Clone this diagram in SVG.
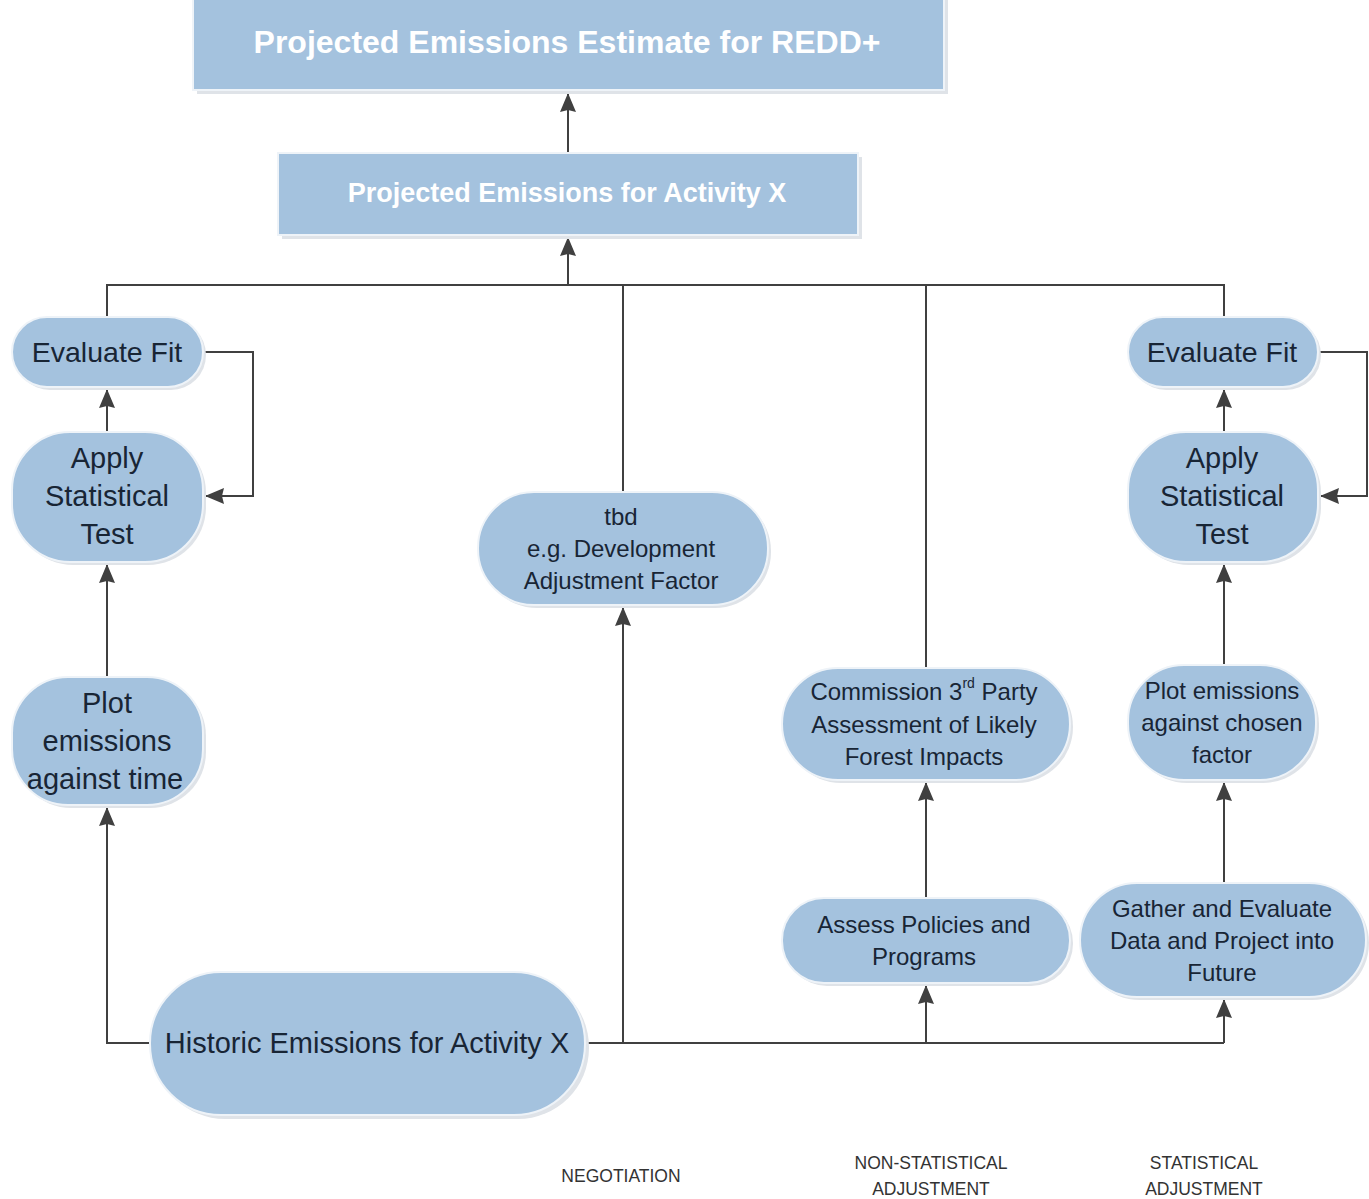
<svg xmlns="http://www.w3.org/2000/svg" width="1369" height="1199" viewBox="0 0 1369 1199">
<defs>
<style>
.box{fill:#a4c2de;stroke:#eef3f8;stroke-width:2}
.shd{fill:#dfe3e8}
.t{font-family:"Liberation Sans",Arial,sans-serif;fill:#182535;text-anchor:middle;dominant-baseline:central}
.w{font-family:"Liberation Sans",Arial,sans-serif;fill:#ffffff;font-weight:bold;text-anchor:middle;dominant-baseline:central}
.lbl{font-family:"Liberation Sans",Arial,sans-serif;fill:#333333;font-size:17.5px;text-anchor:middle;dominant-baseline:central}
.c{fill:none;stroke:#404040;stroke-width:2}
</style>
<marker id="ah" markerUnits="userSpaceOnUse" markerWidth="20" markerHeight="18" refX="19" refY="9" orient="auto">
<path d="M0,1 L19,9 L0,17 L2,9 z" fill="#404040"/>
</marker>
</defs>
<rect width="1369" height="1199" fill="#ffffff"/>

<g id="connectors">
<path class="c" d="M568,152 L568,93" marker-end="url(#ah)"/>
<path class="c" d="M568,285 L568,237" marker-end="url(#ah)"/>
<path class="c" d="M107,318 L107,285 L1224,285 L1224,318"/>
<path class="c" d="M623,285 L623,492"/>
<path class="c" d="M926,285 L926,668"/>
<path class="c" d="M203,352 L253,352 L253,496 L205,496" marker-end="url(#ah)"/>
<path class="c" d="M1318,352 L1367,352 L1367,496 L1320,496" marker-end="url(#ah)"/>
<path class="c" d="M107,432 L107,389" marker-end="url(#ah)"/>
<path class="c" d="M107,677 L107,564" marker-end="url(#ah)"/>
<path class="c" d="M150,1043 L107,1043 L107,807" marker-end="url(#ah)"/>
<path class="c" d="M585,1043 L1224,1043"/>
<path class="c" d="M623,1043 L623,607" marker-end="url(#ah)"/>
<path class="c" d="M926,1043 L926,985" marker-end="url(#ah)"/>
<path class="c" d="M926,898 L926,782" marker-end="url(#ah)"/>
<path class="c" d="M1224,1043 L1224,999" marker-end="url(#ah)"/>
<path class="c" d="M1224,883 L1224,782" marker-end="url(#ah)"/>
<path class="c" d="M1224,665 L1224,564" marker-end="url(#ah)"/>
<path class="c" d="M1224,432 L1224,389" marker-end="url(#ah)"/>
</g>

<g id="redd">
<rect class="shd" x="197" y="-4" width="751" height="98"/>
<rect class="box" x="193" y="-8" width="751" height="98"/>
<text class="w" x="567" y="42" font-size="32">Projected Emissions Estimate for REDD+</text>
</g>

<g id="projected">
<rect class="shd" x="282" y="157" width="580" height="82"/>
<rect class="box" x="278" y="153" width="580" height="82"/>
<text class="w" x="567" y="193" font-size="27">Projected Emissions for Activity X</text>
</g>

<g id="evalL">
<rect class="shd" x="15" y="320" width="191" height="70" rx="35"/>
<rect class="box" x="12" y="317" width="191" height="70" rx="35"/>
<text class="t" x="107" y="352" font-size="28.5">Evaluate Fit</text>
</g>

<g id="applyL">
<rect class="shd" x="15" y="435" width="191" height="130" rx="58"/>
<rect class="box" x="12" y="432" width="191" height="130" rx="58"/>
<text class="t" font-size="29"><tspan x="107" y="458">Apply</tspan><tspan x="107" y="496">Statistical</tspan><tspan x="107" y="534">Test</tspan></text>
</g>

<g id="plotL">
<rect class="shd" x="15" y="680" width="191" height="128" rx="56"/>
<rect class="box" x="12" y="677" width="191" height="128" rx="56"/>
<text class="t" font-size="29"><tspan x="107" y="703">Plot</tspan><tspan x="107" y="741">emissions</tspan><tspan x="105" y="779">against time</tspan></text>
</g>

<g id="historic">
<rect class="shd" x="154" y="976" width="435" height="143" rx="71"/>
<rect class="box" x="150" y="972" width="435" height="143" rx="71"/>
<text class="t" x="367" y="1043" font-size="29">Historic Emissions for Activity X</text>
</g>

<g id="tbd">
<rect class="shd" x="481" y="495" width="290" height="113" rx="56"/>
<rect class="box" x="478" y="492" width="290" height="113" rx="56"/>
<text class="t" font-size="24"><tspan x="621" y="516">tbd</tspan><tspan x="621" y="548">e.g. Development</tspan><tspan x="621" y="580">Adjustment Factor</tspan></text>
</g>

<g id="commission">
<rect class="shd" x="785" y="671" width="288" height="112" rx="56"/>
<rect class="box" x="782" y="668" width="288" height="112" rx="56"/>
<text class="t" font-size="24"><tspan x="924" y="691">Commission 3<tspan font-size="14" dy="-8">rd</tspan><tspan dy="8"> Party</tspan></tspan><tspan x="924" y="724">Assessment of Likely</tspan><tspan x="924" y="756">Forest Impacts</tspan></text>
</g>

<g id="assess">
<rect class="shd" x="785" y="901" width="288" height="85" rx="42"/>
<rect class="box" x="782" y="898" width="288" height="85" rx="42"/>
<text class="t" font-size="24"><tspan x="924" y="924">Assess Policies and</tspan><tspan x="924" y="956">Programs</tspan></text>
</g>

<g id="evalR">
<rect class="shd" x="1131" y="320" width="190" height="70" rx="35"/>
<rect class="box" x="1128" y="317" width="190" height="70" rx="35"/>
<text class="t" x="1222" y="352" font-size="28.5">Evaluate Fit</text>
</g>

<g id="applyR">
<rect class="shd" x="1131" y="435" width="190" height="130" rx="58"/>
<rect class="box" x="1128" y="432" width="190" height="130" rx="58"/>
<text class="t" font-size="29"><tspan x="1222" y="458">Apply</tspan><tspan x="1222" y="496">Statistical</tspan><tspan x="1222" y="534">Test</tspan></text>
</g>

<g id="plotR">
<rect class="shd" x="1131" y="668" width="188" height="115" rx="56"/>
<rect class="box" x="1128" y="665" width="188" height="115" rx="56"/>
<text class="t" font-size="24"><tspan x="1222" y="690">Plot emissions</tspan><tspan x="1222" y="722">against chosen</tspan><tspan x="1222" y="754">factor</tspan></text>
</g>

<g id="gather">
<rect class="shd" x="1083" y="886" width="286" height="114" rx="57"/>
<rect class="box" x="1080" y="883" width="286" height="114" rx="57"/>
<text class="t" font-size="24"><tspan x="1222" y="908">Gather and Evaluate</tspan><tspan x="1222" y="940">Data and Project into</tspan><tspan x="1222" y="972">Future</tspan></text>
</g>

<g id="labels">
<text class="lbl" x="621" y="1176">NEGOTIATION</text>
<text class="lbl"><tspan x="931" y="1163">NON-STATISTICAL</tspan><tspan x="931" y="1189">ADJUSTMENT</tspan></text>
<text class="lbl"><tspan x="1204" y="1163">STATISTICAL</tspan><tspan x="1204" y="1189">ADJUSTMENT</tspan></text>
</g>
</svg>
